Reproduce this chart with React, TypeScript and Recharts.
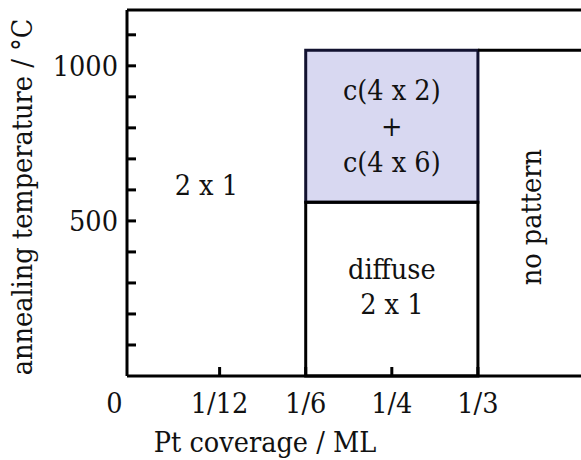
import React from 'react';
import { ComposedChart, XAxis, YAxis, ReferenceArea, ReferenceLine } from 'recharts';

const FONT = "'DejaVu Serif Condensed', 'DejaVu Serif', serif";
const INK = '#111';
const FS = 28.5;

// Tick values and labels
const coverageTicks = [0, 1 / 12, 1 / 6, 1 / 4, 1 / 3];
const coverageLabels = ['0', '1/12', '1/6', '1/4', '1/3'];
const tempTicks = [100, 200, 300, 400, 500, 600, 700, 800, 900, 1000, 1100];
const tempLabelValues = [500, 1000];

// Axis ranges
const coverageDomain = [-0.0063, 0.4331];
const tempDomain = [0, 1180];

// Phase boundaries
const coverageBoundaries = [1 / 6, 1 / 3];
const tempUpper = 1050;
const tempTransition = 560;

// Region labels
const labelLeft = ['2 x 1'];
const labelMixed = ['c(4 x 2)', '+', 'c(4 x 6)'];
const labelDiffuse = ['diffuse', '2 x 1'];
const labelRight = ['no pattern'];

const XTick = (props: any) => {
  const { x, y, payload } = props;
  const v = payload.value;
  const i = coverageTicks.findIndex((t) => Math.abs(t - v) < 1e-9);
  return (
    <g>
      {v !== 0 && <line x1={x} x2={x} y1={y} y2={y - 9} stroke="#000" strokeWidth={3} />}
      <text x={v === 0 ? x - 19 : x} y={y + 37} textAnchor="middle" fontSize={FS} fontFamily={FONT} fill={INK}>
        {coverageLabels[i]}
      </text>
    </g>
  );
};

const YTick = (props: any) => {
  const { x, y, payload } = props;
  const v = payload.value;
  return (
    <g>
      <line x1={x} x2={x + 9} y1={y} y2={y} stroke="#000" strokeWidth={3} />
      {tempLabelValues.includes(v) && (
        <text x={x - 9} y={y + 10} textAnchor="end" fontSize={FS} fontFamily={FONT} fill={INK}>
          {v}
        </text>
      )}
    </g>
  );
};

const makeRegionLabel = (lines: string[], dx: number, dy: number, spacing: number, rotate = false) => (props: any) => {
  const vb = props.viewBox || {};
  const cx = vb.x + vb.width / 2 + dx;
  const cy = vb.y + vb.height / 2 + dy;
  const n = lines.length;
  return (
    <g transform={rotate ? `rotate(-90 ${cx} ${cy})` : undefined}>
      {lines.map((t, k) => (
        <text
          key={k}
          x={cx}
          y={cy + (k - (n - 1) / 2) * spacing}
          textAnchor="middle"
          dominantBaseline="central"
          fontSize={FS}
          fontFamily={FONT}
          fill={INK}
        >
          {t}
        </text>
      ))}
    </g>
  );
};

const YAxisTitle = (props: any) => {
  const vb = props.viewBox || {};
  const cx = vb.x + 22;
  const cy = vb.y + vb.height / 2 + 4;
  return (
    <text
      x={cx}
      y={cy}
      transform={`rotate(-90 ${cx} ${cy})`}
      textAnchor="middle"
      dominantBaseline="central"
      fontSize={FS}
      fontFamily={FONT}
      fill={INK}
    >
      annealing temperature / °C
    </text>
  );
};

const XAxisTitle = (props: any) => {
  const vb = props.viewBox || {};
  return (
    <text x={vb.x + 138} y={vb.y + 76} textAnchor="middle" fontSize={FS} fontFamily={FONT} fill={INK}>
      Pt coverage / ML
    </text>
  );
};

export default function App() {
  return (
    <div style={{ position: 'absolute', left: 0, top: 0, background: '#fff' }}>
      <ComposedChart width={581} height={460} margin={{ top: 10, right: 0, bottom: 0, left: 0 }}>
        <XAxis
          type="number"
          dataKey="x"
          domain={coverageDomain}
          allowDataOverflow
          ticks={coverageTicks}
          interval={0}
          height={84}
          tickSize={0}
          tickMargin={0}
          tickLine={false}
          axisLine={{ stroke: '#000', strokeWidth: 3 }}
          tick={<XTick />}
          label={<XAxisTitle />}
        />
        <YAxis
          type="number"
          dataKey="y"
          domain={tempDomain}
          allowDataOverflow
          ticks={tempTicks}
          interval={0}
          width={127}
          tickSize={0}
          tickMargin={0}
          tickLine={false}
          axisLine={{ stroke: '#000', strokeWidth: 3 }}
          tick={<YTick />}
          label={<YAxisTitle />}
        />
        <ReferenceArea
          x1={coverageDomain[0]}
          x2={coverageBoundaries[0]}
          y1={tempDomain[0]}
          y2={tempDomain[1]}
          fill="none"
          stroke="none"
          ifOverflow="visible"
          label={makeRegionLabel(labelLeft, -10, -8, 36)}
        />
        <ReferenceArea
          x1={coverageBoundaries[0]}
          x2={coverageBoundaries[1]}
          y1={tempTransition}
          y2={tempUpper}
          fill="#d8d8f1"
          fillOpacity={1}
          stroke="#121230"
          strokeWidth={3}
          ifOverflow="visible"
          label={makeRegionLabel(labelMixed, 0, 0, 36)}
        />
        <ReferenceArea
          x1={coverageBoundaries[0]}
          x2={coverageBoundaries[1]}
          y1={tempDomain[0]}
          y2={tempTransition}
          fill="none"
          stroke="#000"
          strokeWidth={3}
          ifOverflow="visible"
          label={makeRegionLabel(labelDiffuse, 0, -2, 35)}
        />
        <ReferenceArea
          x1={coverageBoundaries[1]}
          x2={coverageDomain[1]}
          y1={tempDomain[0]}
          y2={tempUpper}
          fill="none"
          stroke="none"
          ifOverflow="visible"
          label={makeRegionLabel(labelRight, 2, 4, 36, true)}
        />
        <ReferenceLine
          segment={[
            { x: coverageBoundaries[1], y: tempUpper },
            { x: coverageDomain[1], y: tempUpper },
          ]}
          stroke="#000"
          strokeWidth={3}
          ifOverflow="visible"
        />
        <ReferenceLine y={tempDomain[1]} stroke="#000" strokeWidth={3} ifOverflow="visible" />
      </ComposedChart>
    </div>
  );
}
